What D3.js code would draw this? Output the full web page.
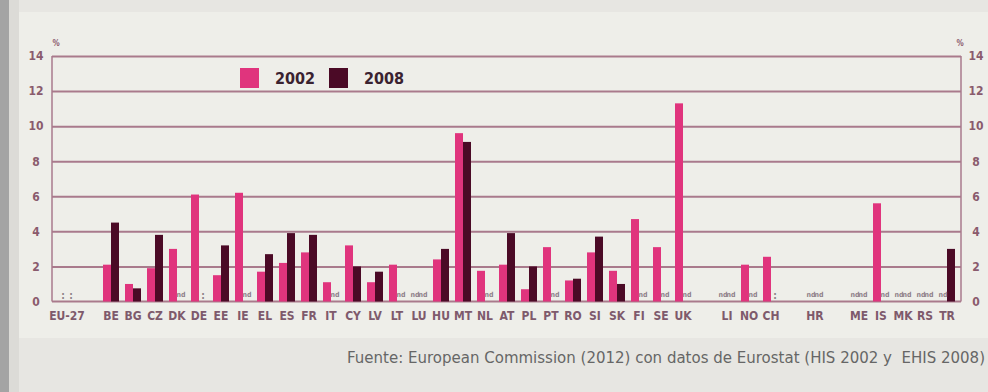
<!DOCTYPE html>
<html>
<head>
<meta charset="utf-8">
<script src="https://cdn.jsdelivr.net/npm/d3@7"></script>
<style>
  html, body { margin: 0; padding: 0; background: #e7e6e2; }
  svg { display: block; }
  .narrow { font-family: 'DejaVu Sans', sans-serif; font-stretch: condensed; }
</style>
</head>
<body>
<svg id="chart" width="988" height="392"></svg>
<script>
// ---- data ----
const countries = ["EU-27","BE","BG","CZ","DK","DE","EE","IE","EL","ES","FR","IT","CY","LV","LT","LU","HU","MT","NL","AT","PL","PT","RO","SI","SK","FI","SE","UK","LI","NO","CH","HR","ME","IS","MK","RS","TR"];
const gapAfter = ["EU-27","UK","CH","HR"];
const series = ["2002","2008"];
const values2002 = [null,2.1,1.0,1.9,3.0,6.1,1.5,6.2,1.7,2.2,2.8,1.1,3.2,1.1,2.1,null,2.4,9.6,1.75,2.1,0.7,3.1,1.2,2.8,1.75,4.7,3.1,11.3,null,2.1,2.55,null,null,5.6,null,null,null];
const values2008 = [null,4.5,0.75,3.8,null,null,3.2,null,2.7,3.9,3.8,null,2.0,1.7,null,null,3.0,9.1,null,3.9,2.0,null,1.3,3.7,1.0,null,null,null,null,null,null,null,null,null,null,null,3.0];
const notes2002 = [":","","","","","","","","","","","","","","","nd","","","","","","","","","","","","","nd","","","nd","nd","","nd","nd","nd"];
const notes2008 = [":","","","","nd",":","","nd","","","","nd","","","nd","nd","","","nd","","","nd","","","","nd","nd","nd","nd","nd",":","nd","nd","nd","nd","nd",""];
const yTicks = [0,2,4,6,8,10,12,14];
const sourceText = "Fuente: European Commission (2012) con datos de Eurostat (HIS 2002 y  EHIS 2008)";

// ---- layout ----
const svg = d3.select("#chart");
const colors = {"2002": "#e0347d", "2008": "#4b0a26"};
const gridColor = "#a97a8c";

// background panel
svg.append("rect").attr("x",0).attr("y",0).attr("width",988).attr("height",392).attr("fill","#e7e6e2");
svg.append("rect").attr("x",0).attr("y",0).attr("width",9).attr("height",392).attr("fill","#a4a4a4");
svg.append("rect").attr("x",9).attr("y",0).attr("width",10).attr("height",392).attr("fill","#dcdbd7");
svg.append("rect").attr("x",19).attr("y",12).attr("width",969).attr("height",326).attr("fill","#eeeee9");

// slots (with gaps)
const slots = [];
countries.forEach((c, i) => {
  slots.push({key: c, idx: i});
  if (gapAfter.includes(c)) slots.push({key: "gap-" + c, idx: -1});
});

const x = d3.scaleBand().domain(slots.map(s => s.key)).range([56, 958]).padding(0);
const groupW = 16;
const xs = d3.scaleBand().domain(series).range([0, groupW]).padding(0);
const y = d3.scaleLinear().domain([0, 14]).range([301.5, 56]);
const L = 52, R = 961;

// gridlines
const grid = svg.append("g").attr("transform", `translate(${L},0)`)
  .call(d3.axisRight(y).tickValues(yTicks.filter(d => d > 0)).tickSize(R - L).tickFormat(""));
grid.select(".domain").remove();
grid.selectAll(".tick line").attr("stroke", gridColor).attr("stroke-width", 2);

// frame
svg.append("line").attr("x1",L).attr("x2",L).attr("y1",y(14)).attr("y2",y(0)).attr("stroke",gridColor).attr("stroke-width",1.5);
svg.append("line").attr("x1",R).attr("x2",R).attr("y1",y(14)).attr("y2",y(0)).attr("stroke",gridColor).attr("stroke-width",1.5);
svg.append("line").attr("x1",L).attr("x2",R).attr("y1",y(0)).attr("y2",y(0)).attr("stroke",gridColor).attr("stroke-width",2);

// y axes labels
function styleAxis(g) {
  g.select(".domain").remove();
  g.selectAll(".tick line").remove();
  g.selectAll("text").attr("class", "narrow").attr("font-family", null).attr("font-size", 12).attr("font-weight", "bold").attr("fill", "#8a5b6d");
}
svg.append("g").attr("transform", `translate(${L - 9},0)`)
  .call(d3.axisLeft(y).tickValues(yTicks).tickSize(0).tickPadding(0)).call(styleAxis)
  .selectAll("text").attr("text-anchor","middle").attr("dx", -7);
svg.append("g").attr("transform", `translate(${R + 8},0)`)
  .call(d3.axisRight(y).tickValues(yTicks).tickSize(0).tickPadding(0)).call(styleAxis)
  .selectAll("text").attr("text-anchor","middle").attr("dx", 7);

[56, 960].forEach(px => {
  svg.append("text").attr("class","narrow").attr("x", px).attr("y", 46).attr("text-anchor","middle")
    .attr("font-size", 8).attr("font-weight","bold").attr("fill","#8a5b6d").text("%");
});

// bars
const rows = [];
countries.forEach((c, i) => {
  rows.push({c, s: "2002", v: values2002[i], note: notes2002[i]});
  rows.push({c, s: "2008", v: values2008[i], note: notes2008[i]});
});
const gx = c => x(c) + (x.bandwidth() - groupW) / 2;

svg.append("g").selectAll("rect").data(rows.filter(r => r.v != null)).join("rect")
  .attr("x", r => gx(r.c) + xs(r.s))
  .attr("width", xs.bandwidth())
  .attr("y", r => y(r.v))
  .attr("height", r => y(0) - y(r.v))
  .attr("fill", r => colors[r.s]);

// notes for missing values
svg.append("g").selectAll("text").data(rows.filter(r => r.v == null && r.note)).join("text")
  .attr("class", "narrow")
  .attr("x", r => gx(r.c) + xs(r.s) + xs.bandwidth() / 2)
  .attr("y", r => r.note === ":" ? y(0) - 3 : y(0) - 5)
  .attr("text-anchor", "middle")
  .attr("font-size", r => r.note === ":" ? 10 : 7)
  .attr("font-weight", "bold")
  .attr("fill", "#8d7f88")
  .text(r => r.note);

// category labels
svg.append("g").selectAll("text").data(countries).join("text")
  .attr("class", "narrow")
  .attr("x", c => x(c) + x.bandwidth() / 2)
  .attr("y", 320)
  .attr("text-anchor", "middle")
  .attr("font-size", 12)
  .attr("font-weight", "bold")
  .attr("fill", "#7e5a6c")
  .text(c => c);

// legend
const legend = svg.append("g");
const legendPos = {"2002": 240, "2008": 329};
series.forEach(s => {
  legend.append("rect").attr("x", legendPos[s]).attr("y", 68).attr("width", 19).attr("height", 20).attr("fill", colors[s]);
  legend.append("text").attr("class","narrow").attr("x", legendPos[s] + 35).attr("y", 83.5)
    .attr("font-size", 16).attr("font-weight", "bold").attr("fill", "#3a2230").text(s);
});

// source
svg.append("text").attr("x", 985).attr("y", 363).attr("text-anchor", "end")
  .style("white-space", "pre")
  .attr("font-family", "'DejaVu Sans', sans-serif").attr("font-size", 15).attr("fill", "#666")
  .text(sourceText);
</script>
</body>
</html>
